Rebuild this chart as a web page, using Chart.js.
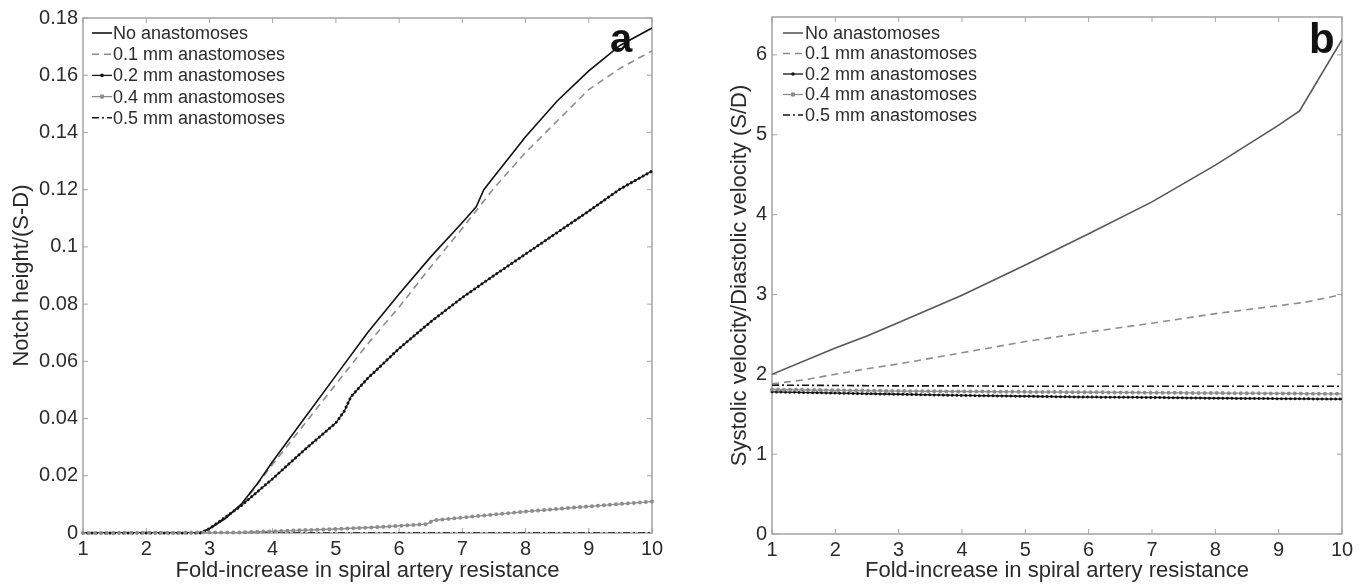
<!DOCTYPE html>
<html>
<head>
<meta charset="utf-8">
<script src="https://cdn.jsdelivr.net/npm/chart.js@4.4.1/dist/chart.umd.min.js"></script>
<style>
  body { margin: 0; background: #fff; }
  .panel { position: absolute; top: 0; width: 684px; height: 585px; }
</style>
</head>
<body>
<div class="panel" style="left:0"><canvas id="chartA" width="684" height="585"></canvas></div>
<div class="panel" style="left:684px"><canvas id="chartB" width="684" height="585"></canvas></div>
<script>
// Shared axis / legend data.
var xTicks = [1, 2, 3, 4, 5, 6, 7, 8, 9, 10];
var notchTicks = ['0', '0.02', '0.04', '0.06', '0.08', '0.1', '0.12', '0.14', '0.16', '0.18'];
var ratioTicks = ['0', '1', '2', '3', '4', '5', '6'];
var seriesNames = [
  'No anastomoses',
  '0.1 mm anastomoses',
  '0.2 mm anastomoses',
  '0.4 mm anastomoses',
  '0.5 mm anastomoses'
];

// Panel a: notch height / (S-D).
var aNoneX = [1, 2, 2.85, 3, 3.25, 3.5, 3.75, 4, 4.5, 5, 5.5, 6, 6.5, 7, 7.22, 7.34, 7.5, 8, 8.5, 9, 9.5, 10];
var aNoneY = [0, 0, 0, 0.0015, 0.005, 0.010, 0.017, 0.025, 0.040, 0.055, 0.070, 0.0835, 0.0965, 0.1085, 0.114, 0.120, 0.1245, 0.1385, 0.151, 0.1615, 0.1705, 0.1765];
var aTenthX = [1, 2, 2.85, 3, 3.5, 4, 4.5, 5, 5.5, 6, 6.5, 7, 7.5, 8, 8.5, 9, 9.5, 10];
var aTenthY = [0, 0, 0, 0.0015, 0.0095, 0.024, 0.038, 0.052, 0.066, 0.079, 0.093, 0.1065, 0.1205, 0.133, 0.144, 0.155, 0.1625, 0.1685];
var aFifthX = [1, 2, 2.85, 3, 3.5, 4, 4.5, 5, 5.13, 5.24, 5.5, 6, 6.5, 7, 7.5, 8, 8.5, 9, 9.5, 10];
var aFifthY = [0, 0, 0, 0.0015, 0.0095, 0.019, 0.029, 0.0385, 0.0425, 0.0477, 0.054, 0.0645, 0.0738, 0.0823, 0.090, 0.0975, 0.105, 0.1125, 0.1203, 0.1265];
var aTwoFifthsX = [1, 3.5, 4, 5, 5.7, 6.44, 6.54, 7, 7.28, 8, 8.34, 9, 10];
var aTwoFifthsY = [0, 0.0002, 0.0006, 0.0014, 0.0021, 0.0031, 0.0044, 0.0054, 0.006, 0.0075, 0.0081, 0.0093, 0.011];
var aHalfX = [1, 10];
var aHalfY = [0, 0];

// Panel b: systolic / diastolic velocity.
var bNoneX = [1, 2, 2.5, 3, 4, 5, 6, 7, 8, 9, 9.33, 10];
var bNoneY = [2.0, 2.33, 2.48, 2.65, 2.99, 3.37, 3.76, 4.16, 4.62, 5.12, 5.30, 6.19];
var bTenthX = [1, 1.5, 2, 2.5, 3, 4, 5, 6, 7, 8, 9, 9.4, 10];
var bTenthY = [1.88, 1.93, 2.0, 2.07, 2.13, 2.27, 2.41, 2.53, 2.64, 2.76, 2.86, 2.90, 3.0];
var bFlatX = [1, 2, 3, 4, 5, 6, 7, 8, 9, 10];
var bFifthY = [1.78, 1.765, 1.75, 1.735, 1.725, 1.715, 1.71, 1.70, 1.695, 1.69];
var bTwoFifthsY = [1.81, 1.80, 1.79, 1.785, 1.78, 1.775, 1.77, 1.765, 1.76, 1.755];
var bHalfY = [1.865, 1.86, 1.855, 1.855, 1.85, 1.85, 1.85, 1.85, 1.85, 1.85];

Chart.defaults.font.family = "'Liberation Sans', Arial, Helvetica, sans-serif";
Chart.defaults.color = '#2b2b2b';

var FRAME_COLOR = '#a3a3a3';

// Line looks, one per series (bead = dotted marker line).
function seriesStyles(firstColor) {
  return [
    { color: firstColor, width: 1.6, dash: [] },
    { color: '#8d8d8d', width: 1.6, dash: [7, 5] },
    { color: '#151515', width: 1.3, dash: [], bead: 3, gap: 4.5 },
    { color: '#8d8d8d', width: 1.3, dash: [], bead: 4, gap: 6 },
    { color: '#151515', width: 1.6, dash: [7, 3, 2, 3] }
  ];
}

// Frame with inward ticks on all four sides, like the source figure.
var framePlugin = {
  id: 'frame',
  beforeDatasetsDraw: function (chart) {
    var ctx = chart.ctx;
    var area = chart.chartArea;
    var xs = chart.scales.x;
    var ys = chart.scales.y;
    ctx.save();
    ctx.strokeStyle = FRAME_COLOR;
    ctx.lineWidth = 1.5;
    ctx.strokeRect(area.left, area.top, area.right - area.left, area.bottom - area.top);
    ctx.lineWidth = 1;
    ctx.beginPath();
    xs.ticks.forEach(function (t) {
      var px = xs.getPixelForValue(t.value);
      ctx.moveTo(px, area.bottom); ctx.lineTo(px, area.bottom - 5);
      ctx.moveTo(px, area.top); ctx.lineTo(px, area.top + 5);
    });
    ys.ticks.forEach(function (t) {
      var py = ys.getPixelForValue(t.value);
      ctx.moveTo(area.left, py); ctx.lineTo(area.left + 5, py);
      ctx.moveTo(area.right, py); ctx.lineTo(area.right - 5, py);
    });
    ctx.stroke();
    ctx.restore();
  }
};

// Bead markers along the dotted series, on the points the library placed.
var beadPlugin = {
  id: 'beads',
  afterDatasetsDraw: function (chart) {
    var ctx = chart.ctx;
    var area = chart.chartArea;
    chart.data.datasets.forEach(function (ds, i) {
      if (!ds.beadStyle) {
        return;
      }
      var pts = chart.getDatasetMeta(i).data;
      ctx.save();
      ctx.beginPath();
      ctx.rect(area.left - 3, area.top - 3, area.right - area.left + 6, area.bottom - area.top + 6);
      ctx.clip();
      ctx.beginPath();
      pts.forEach(function (p, j) {
        if (j === 0) {
          ctx.moveTo(p.x, p.y);
        } else {
          ctx.lineTo(p.x, p.y);
        }
      });
      ctx.setLineDash([0.01, ds.beadStyle.gap]);
      ctx.lineCap = 'round';
      ctx.lineWidth = ds.beadStyle.bead;
      ctx.strokeStyle = ds.beadStyle.color;
      ctx.stroke();
      ctx.restore();
    });
  }
};

// Legend inside the plot and the panel letter.
var decorPlugin = {
  id: 'decor',
  afterDraw: function (chart, args, opts) {
    var ctx = chart.ctx;
    var area = chart.chartArea;
    ctx.save();
    chart.data.datasets.forEach(function (ds, i) {
      var y = area.top + opts.rowTop + i * opts.rowStep;
      var x0 = area.left + opts.sampleStart;
      var x1 = area.left + opts.sampleEnd;
      ctx.beginPath();
      ctx.setLineDash(ds.borderDash || []);
      ctx.lineWidth = ds.borderWidth;
      ctx.strokeStyle = ds.borderColor;
      ctx.moveTo(x0, y);
      ctx.lineTo(x1, y);
      ctx.stroke();
      ctx.setLineDash([]);
      if (ds.beadStyle) {
        ctx.beginPath();
        ctx.fillStyle = ds.borderColor;
        ctx.arc((x0 + x1) / 2, y, ds.beadStyle.bead / 2 + 0.3, 0, Math.PI * 2);
        ctx.fill();
      }
      ctx.fillStyle = '#2b2b2b';
      ctx.font = opts.legendFont;
      ctx.textAlign = 'left';
      ctx.textBaseline = 'middle';
      ctx.fillText(ds.label, area.left + opts.textStart, y + 1);
    });
    ctx.fillStyle = '#111';
    ctx.font = opts.letterFont;
    ctx.textBaseline = 'alphabetic';
    ctx.fillText(opts.letter, area.right - opts.letterRight, area.top + opts.letterBase);
    ctx.restore();
  }
};

/**
 * Build one panel of the figure.
 */
function buildPanel(panel) {
  var styles = seriesStyles(panel.firstColor);
  var datasets = panel.series.map(function (s, i) {
    var st = styles[i];
    return {
      label: seriesNames[i],
      data: s.x.map(function (x, j) { return { x: x, y: s.y[j] }; }),
      borderColor: st.color,
      borderWidth: st.width,
      borderDash: st.dash,
      pointRadius: 0,
      fill: false,
      tension: 0,
      beadStyle: st.bead ? st : null
    };
  });

  return new Chart(document.getElementById(panel.canvasId), {
    type: 'line',
    data: { datasets: datasets },
    options: {
      responsive: false,
      animation: false,
      events: [],
      layout: { padding: panel.padding },
      plugins: {
        legend: { display: false },
        tooltip: { enabled: false },
        decor: panel.decor
      },
      scales: {
        x: {
          type: 'linear',
          min: 1,
          max: 10,
          grid: { display: false, drawTicks: false },
          border: { display: false },
          afterBuildTicks: function (scale) {
            scale.ticks = xTicks.map(function (v) { return { value: v }; });
          },
          afterFit: function (scale) { scale.height = panel.xAxisHeight; },
          ticks: {
            font: { size: 20 },
            color: '#2b2b2b',
            padding: 4,
            maxRotation: 0,
            autoSkip: false,
            callback: function (v, idx) { return String(xTicks[idx]); }
          },
          title: {
            display: true,
            text: 'Fold-increase in spiral artery resistance',
            font: { size: 22 },
            color: '#2b2b2b',
            padding: { top: 0, bottom: 1 }
          }
        },
        y: {
          type: 'linear',
          min: 0,
          max: panel.yMax,
          grid: { display: false, drawTicks: false },
          border: { display: false },
          afterBuildTicks: function (scale) {
            scale.ticks = panel.yTicks.map(function (v) { return { value: +v }; });
          },
          afterFit: function (scale) { scale.width = panel.yAxisWidth; },
          ticks: {
            font: { size: 20 },
            color: '#2b2b2b',
            padding: 5,
            autoSkip: false,
            callback: function (v, idx) { return panel.yTicks[idx]; }
          },
          title: {
            display: true,
            text: panel.yTitle,
            font: { size: 22 },
            color: '#2b2b2b',
            padding: { top: panel.yTitlePad, bottom: 0 }
          }
        }
      }
    },
    plugins: [framePlugin, beadPlugin, decorPlugin]
  });
}

buildPanel({
  canvasId: 'chartA',
  firstColor: '#111111',
  series: [
    { x: aNoneX, y: aNoneY },
    { x: aTenthX, y: aTenthY },
    { x: aFifthX, y: aFifthY },
    { x: aTwoFifthsX, y: aTwoFifthsY },
    { x: aHalfX, y: aHalfY }
  ],
  yMax: 0.18,
  yTicks: notchTicks,
  yTitle: 'Notch height/(S-D)',
  yTitlePad: 9,
  yAxisWidth: 83,
  xAxisHeight: 52,
  padding: { left: 0, right: 32, top: 18, bottom: 0 },
  decor: {
    rowTop: 15, rowStep: 21.2, sampleStart: 9, sampleEnd: 29, textStart: 30,
    legendFont: '18px "Liberation Sans", Arial, sans-serif',
    letter: 'a', letterRight: 42, letterBase: 34,
    letterFont: 'bold 40px "Liberation Sans", Arial, sans-serif'
  }
});

buildPanel({
  canvasId: 'chartB',
  firstColor: '#575757',
  series: [
    { x: bNoneX, y: bNoneY },
    { x: bTenthX, y: bTenthY },
    { x: bFlatX, y: bFifthY },
    { x: bFlatX, y: bTwoFifthsY },
    { x: bFlatX, y: bHalfY }
  ],
  yMax: 6.475,
  yTicks: ratioTicks,
  yTitle: 'Systolic velocity/Diastolic velocity (S/D)',
  yTitlePad: 43,
  yAxisWidth: 88,
  xAxisHeight: 51,
  padding: { left: 0, right: 26, top: 16, bottom: 0 },
  decor: {
    rowTop: 16, rowStep: 20.5, sampleStart: 11, sampleEnd: 31, textStart: 33,
    legendFont: '18px "Liberation Sans", Arial, sans-serif',
    letter: 'b', letterRight: 33, letterBase: 36,
    letterFont: 'bold 42px "Liberation Sans", Arial, sans-serif'
  }
});
</script>
</body>
</html>
